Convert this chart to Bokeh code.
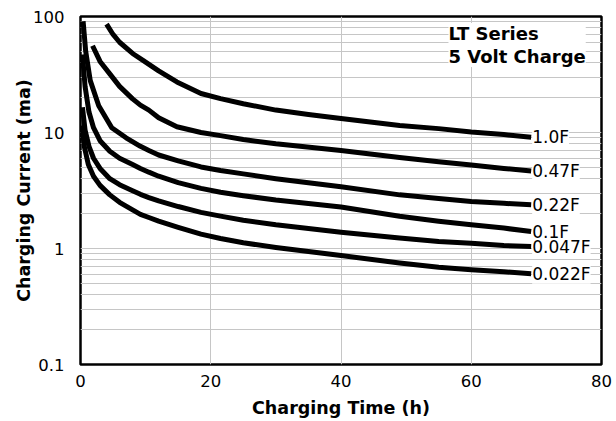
from bokeh.plotting import figure
from bokeh.models import FixedTicker, ColumnDataSource, LabelSet, Label
from bokeh.core.properties import value
from bokeh.embed import file_html
from bokeh.resources import INLINE

# ---- data (charging time in h, charging current in mA) ----
names = ["1.0F", "0.47F", "0.22F", "0.1F", "0.047F", "0.022F"]

t_10 = [4, 5, 6, 8, 9.6, 12, 14.8, 18.5, 21.5, 25, 30, 35, 40, 49, 55, 60, 65, 69.2]
i_10 = [86, 70, 60, 48, 41.9, 34, 27.3, 21.7, 19.6, 17.7, 15.6, 14.3, 13.2, 11.5, 10.8, 10.1, 9.6, 9.1]

t_047 = [1.85, 3, 4.5, 6, 8, 9.2, 10.5, 12, 14.8, 18.5, 21.5, 25, 30, 40, 49, 55, 60, 65, 69.2]
i_047 = [56, 41, 32, 25, 19.5, 17.2, 15.6, 13.4, 11.2, 10.0, 9.4, 8.7, 8.0, 7.0, 6.1, 5.6, 5.24, 4.9, 4.66]

t_022 = [0.4, 0.8, 1.5, 2.8, 4.8, 7, 9.2, 10.5, 12, 15, 18.5, 21.5, 25, 30, 40, 49, 55, 60, 65, 69.2]
i_022 = [91, 50, 28, 17, 11, 9.0, 7.6, 7.0, 6.4, 5.7, 5.05, 4.7, 4.4, 4.0, 3.4, 2.9, 2.7, 2.54, 2.45, 2.38]

t_01 = [0.3, 0.7, 1.3, 2, 3, 4.5, 6, 8, 9.2, 10.5, 12, 15, 18.5, 21.5, 25, 30, 40, 49, 55, 60, 65, 69.2]
i_01 = [47, 25, 15, 11, 8.5, 6.9, 6.0, 5.3, 4.9, 4.55, 4.2, 3.7, 3.3, 3.05, 2.85, 2.62, 2.28, 1.9, 1.72, 1.6, 1.5, 1.40]

t_0047 = [0.3, 0.7, 1.3, 2, 3, 4.5, 6, 8, 9.2, 10.5, 12, 15, 18.5, 21.5, 25, 30, 40, 49, 55, 60, 65, 69.2]
i_0047 = [16.5, 10.5, 7.6, 6.0, 4.9, 4.0, 3.55, 3.15, 2.93, 2.75, 2.57, 2.3, 2.05, 1.9, 1.75, 1.6, 1.38, 1.23, 1.15, 1.11, 1.06, 1.04]

t_0022 = [0.2, 0.6, 1.2, 2, 3, 4.5, 6, 8, 9.2, 10.5, 12, 15, 18.5, 21.5, 25, 30, 40, 49, 55, 60, 65, 69.2]
i_0022 = [11.5, 7.5, 5.3, 4.2, 3.5, 2.9, 2.5, 2.15, 1.97, 1.85, 1.72, 1.52, 1.33, 1.22, 1.12, 1.02, 0.87, 0.75, 0.69, 0.656, 0.63, 0.605]

x_ticks = [0, 20, 40, 60, 80]
y_ticks = [0.1, 1, 10, 100]
y_tick_labels = {0.1: "0.1", 1: "1", 10: "10", 100: "100"}

series_t = [t_10, t_047, t_022, t_01, t_0047, t_0022]
series_i = [i_10, i_047, i_022, i_01, i_0047, i_0022]

FONT = "DejaVu Sans"

p = figure(width=614, height=420, x_range=(0, 80), y_range=(0.1, 100),
           y_axis_type="log", output_backend="svg", toolbar_location=None,
           min_border_left=80, min_border_right=13, min_border_top=16, min_border_bottom=55)

p.background_fill_color = "white"
p.border_fill_color = "white"
p.outline_line_color = "black"
p.outline_line_width = 2.5

minor = [m * d for d in [0.1, 1, 10] for m in range(2, 10)]
p.xaxis.ticker = FixedTicker(ticks=x_ticks)
p.yaxis.ticker = FixedTicker(ticks=y_ticks, minor_ticks=minor)
p.ygrid.ticker = FixedTicker(ticks=y_ticks, minor_ticks=minor)
p.xgrid.ticker = FixedTicker(ticks=x_ticks)
p.yaxis.major_label_overrides = y_tick_labels

for ax in (p.xaxis[0], p.yaxis[0]):
    ax.axis_line_color = None
    ax.major_tick_line_color = None
    ax.minor_tick_line_color = None
    ax.major_label_text_font = FONT
    ax.major_label_text_font_size = "16.5px"
    ax.major_label_text_color = "black"
    ax.axis_label_text_font = FONT
    ax.axis_label_text_font_style = "bold"
    ax.axis_label_text_font_size = "17.5px"
    ax.axis_label_text_color = "black"

p.xaxis.axis_label = "Charging Time (h)"
p.yaxis.axis_label = "Charging Current (ma)"
p.xaxis.major_label_standoff = 4
p.xaxis.axis_label_standoff = 8
p.yaxis.major_label_standoff = 10
p.yaxis.axis_label_standoff = -4

grid_color = "#c6c6c6"
p.xgrid.grid_line_color = grid_color
p.ygrid.grid_line_color = grid_color
p.ygrid.minor_grid_line_color = grid_color
p.xgrid.grid_line_width = 1
p.ygrid.grid_line_width = 1

for t, i in zip(series_t, series_i):
    p.line(t, i, line_color="black", line_width=5, line_join="round")

end_src = ColumnDataSource(dict(x=[t[-1] for t in series_t],
                                y=[i[-1] for i in series_i],
                                text=names))
label_style = dict(x="x", y="y", text="text", source=end_src,
                   x_offset=1, text_baseline="middle", text_align="left",
                   text_font=value(FONT), text_font_size=value("17px"))
# white boxes first, then the texts on top so none is hidden
p.add_layout(LabelSet(text_color="white", background_fill_color="white", **label_style))
p.add_layout(LabelSet(text_color="black", **label_style))

p.add_layout(Label(x=56.5, y=88, text="LT Series\n5 Volt Charge",
                   text_font=FONT, text_font_style="bold", text_font_size="18px",
                   text_line_height=1.1,
                   text_baseline="top", text_align="left", text_color="black",
                   background_fill_color="white"))

open("out.html", "w").write(file_html(p, INLINE))
